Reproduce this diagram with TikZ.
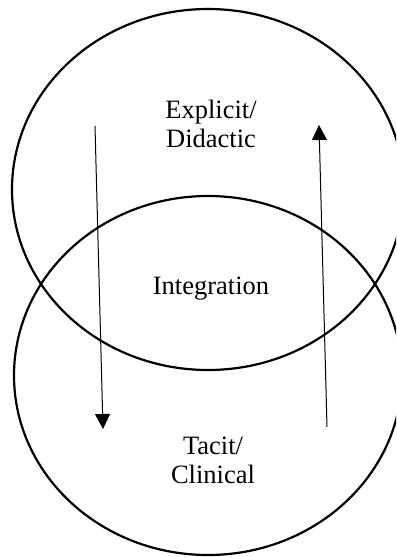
\documentclass[tikz,border=0pt]{standalone}
\usepackage{fontspec}
\setmainfont{Liberation Serif}
\usetikzlibrary{shapes.geometric,arrows.meta}
\begin{document}
\begin{tikzpicture}[x=1bp,y=-1bp,
  circ/.style={draw,ellipse,line width=2.2bp,inner sep=0pt},
  lbl/.style={align=center,font=\fontsize{26.5bp}{29bp}\selectfont,inner sep=0pt,anchor=base},
  flow/.style={line width=1bp,-{Triangle[width=15bp,length=15bp]}}]
\useasboundingbox (0,0) rectangle (396,557);
\clip (0,0) rectangle (396,557);
\node[circ,minimum width=392bp,minimum height=361bp] (top) at (208,189.5) {};
\node[circ,minimum width=388bp,minimum height=359bp] (bot) at (208,375.5) {};
\node[lbl] (expl) at (211,148) {Explicit/\\Didactic};
\node[lbl] (integ) at (211,294) {Integration};
\node[lbl] (tacit) at (213,483) {Tacit/\\Clinical};
\coordinate (l1) at (95,126);
\coordinate (l2) at (103,429);
\coordinate (r1) at (327,427);
\coordinate (r2) at (319,125);
\draw[flow] (l1) -- (l2);
\draw[flow] (r1) -- (r2);
\end{tikzpicture}
\end{document}
